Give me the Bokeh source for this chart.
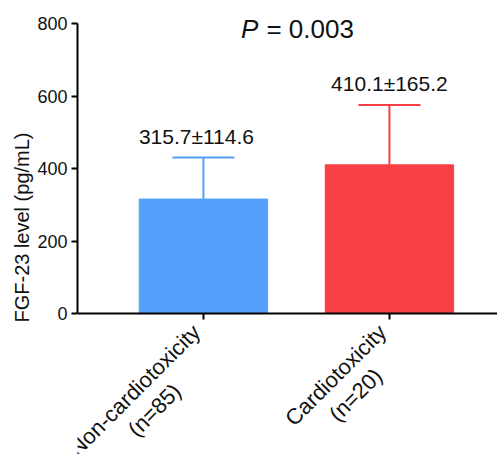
import math
from bokeh.plotting import figure
from bokeh.models import ColumnDataSource, Range1d, FixedTicker, Whisker, Title
from bokeh.core.properties import value
from bokeh.embed import file_html
from bokeh.resources import INLINE

groups = ["Non-cardiotoxicity", "Cardiotoxicity"]
group_n = ["(n=85)", "(n=20)"]
means = [315.7, 410.1]
sds = [114.6, 165.2]
colors = ["#55A0FB", "#F84044"]
y_ticks = [0, 200, 400, 600, 800]
p_text = "0.003"

label_dx = [-7, 0]  # small horizontal nudges (px) of the mean±SD labels

FONT = "Liberation Sans"
TXT = "#111111"

# approximate Arial/Liberation Sans advance widths (em/1000), used to centre the 2nd label line
CW = {' ': 278, '(': 333, ')': 333, '-': 333, '=': 584, 'C': 722, 'N': 722, 'a': 556, 'c': 500,
      'd': 556, 'i': 222, 'n': 556, 'o': 556, 'r': 333, 't': 278, 'x': 500, 'y': 500}
def text_w(s, size):
    return sum(CW.get(ch, 556) for ch in s) / 1000 * size

xs = list(range(len(groups)))
src = ColumnDataSource(dict(
    x=xs, top=means, upper=[m + s for m, s in zip(means, sds)],
    color=colors, dx=label_dx,
    label=[f"{m:.1f}±{s:.1f}" for m, s in zip(means, sds)],
))

# frame covers the whole area below the y-axis top so that all texts can be drawn inside it
FH, FW = 454, 420
X0, X1 = -0.677, 1.581
PX_X = FW / (X1 - X0)
PX_Y = 290 / 800
y0_px = 313
p = figure(frame_width=FW, frame_height=FH, output_backend="svg", toolbar_location=None,
           x_range=Range1d(X0, X1),
           y_range=Range1d(-(FH - y0_px) / PX_Y, 800 + 23 / PX_Y),
           min_border_left=77, min_border_right=0, min_border_top=0, min_border_bottom=0)
p.outline_line_color = None
p.xgrid.visible = False
p.ygrid.visible = False

p.vbar(x="x", top="top", width=0.69, bottom=0, source=src, fill_color="color", line_color="color")
w = Whisker(base="x", lower="top", upper="upper", source=src, dimension="height",
            line_color="color", line_width=2)
w.upper_head.size = 62
w.upper_head.line_color = "color"
w.upper_head.line_width = 2
w.lower_head = None
p.add_layout(w)

p.text(x="x", y="upper", text="label", source=src, x_offset="dx", y_offset=-21,
       text_align="center", text_baseline="alphabetic",
       text_font=value(FONT), text_font_size="21px", text_color=TXT)

# P value
p.text(x=[0.5], y=[775], text=["P"], text_align="right", text_baseline="alphabetic",
       x_offset=-38, y_offset=-4,
       text_font=value(FONT), text_font_style="italic", text_font_size="26px", text_color=TXT)
p.text(x=[0.5], y=[775], text=["= " + p_text], text_align="left", text_baseline="alphabetic",
       x_offset=-30, y_offset=-4,
       text_font=value(FONT), text_font_size="26px", text_color=TXT)

for ax in (p.xaxis, p.yaxis):
    ax.axis_line_width = 2
    ax.axis_line_color = "black"
    ax.major_tick_line_width = 2
    ax.major_tick_line_color = "black"
    ax.minor_tick_line_color = None
    ax.major_tick_in = 0
    ax.major_tick_out = 6
    ax.major_label_text_font = FONT
    ax.major_label_text_color = TXT

p.yaxis.ticker = FixedTicker(ticks=y_ticks)
p.yaxis.bounds = (0, 800)
p.yaxis.major_label_text_font_size = "18px"
p.yaxis.major_label_standoff = 4

# y-axis title as a left-side Title so it can be centred on the 0-800 axis span
p.add_layout(Title(text="FGF-23 level (pg/mL)", align="center", offset=FH / 2 - 166,
                   text_font=FONT, text_font_style="normal", text_font_size="20px",
                   text_color=TXT, standoff=4), "left")

p.xaxis.ticker = FixedTicker(ticks=xs)
p.xaxis.fixed_location = 0
p.xaxis.major_label_overrides = {i: "" for i in xs}
p.xaxis.major_label_text_font_size = "1px"
p.xaxis.major_label_standoff = 0

# rotated two-line category labels, second line centred under the first
# (anchor positions computed in screen px relative to each tick, y down, then turned into data units)
ang = math.pi / 4
c, s = math.cos(ang), math.sin(ang)
fs, lh = 22, 28
dx0, dy0 = -7, 15
l1 = dict(x=[], y=[], t=[])
l2 = dict(x=[], y=[], t=[])
for i, (g, n) in enumerate(zip(groups, group_n)):
    half = text_w(g, fs) / 2
    l1["x"].append(xs[i] + dx0 / PX_X); l1["y"].append(-dy0 / PX_Y); l1["t"].append(g)
    ddx = dx0 - c * half + s * lh
    ddy = dy0 + s * half + c * lh
    l2["x"].append(xs[i] + ddx / PX_X); l2["y"].append(-ddy / PX_Y); l2["t"].append(n)

p.text(x="x", y="y", text="t", angle=ang, source=ColumnDataSource(l1),
       text_align="right", text_baseline="middle", text_font=value(FONT),
       text_font_size=f"{fs}px", text_color=TXT)
p.text(x="x", y="y", text="t", angle=ang, source=ColumnDataSource(l2),
       text_align="center", text_baseline="middle", text_font=value(FONT),
       text_font_size=f"{fs}px", text_color=TXT)

open("out.html", "w").write(file_html(p, INLINE))
